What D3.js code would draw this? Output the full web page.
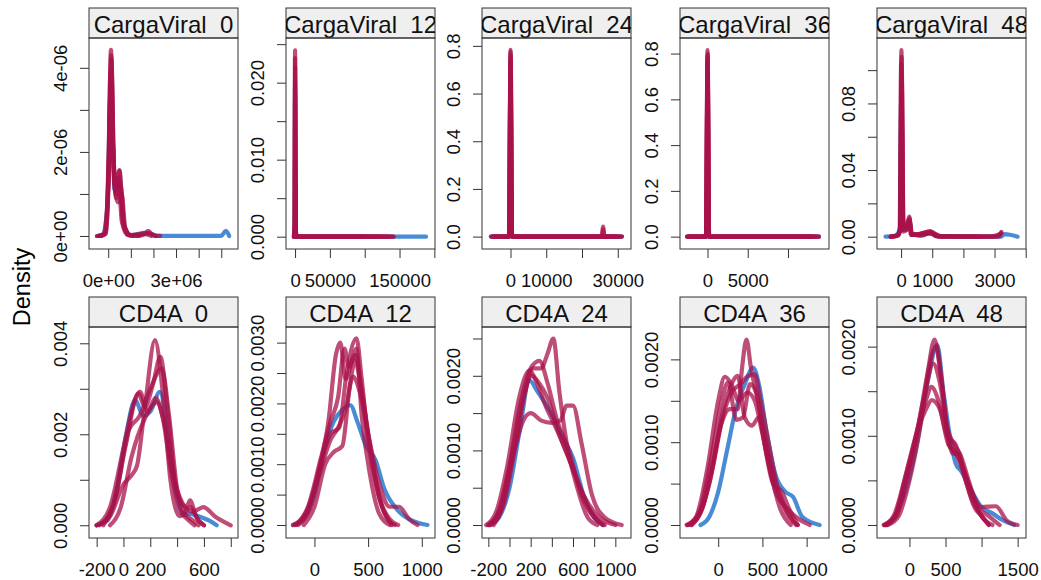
<!DOCTYPE html>
<html>
<head>
<meta charset="utf-8">
<script src="https://cdn.jsdelivr.net/npm/d3@7"></script>
<style>
  body { margin: 0; background: #fff; }
  svg { font-family: "Liberation Sans", Arial, Helvetica, sans-serif; }
</style>
</head>
<body>
<div id="chart"></div>
<script>
// panel titles, row by row
const panelTitles = [
  "CargaViral  0", "CargaViral  12", "CargaViral  24", "CargaViral  36", "CargaViral  48",
  "CD4A  0", "CD4A  12", "CD4A  24", "CD4A  36", "CD4A  48"
];

// free scales: limits of every panel
const xDomains = [
  [-0.85e6, 5.74e6], [-13000, 200900], [-7970, 33700], [-3420, 15100], [-774, 4010],
  [-257, 854], [-265, 1123], [-260, 1148], [-432, 1253], [-450, 1616]
];
const yDomains = [
  [-0.31e-6, 4.71e-6], [-0.0016, 0.0258], [-0.052, 0.833], [-0.054, 0.868], [-0.0074, 0.1193],
  [-0.00028, 0.004358], [-0.000214, 0.003257], [-0.000174, 0.002654], [-0.000157, 0.002391], [-0.000146, 0.00222]
];

const xTicks = [
  [0, 1e6, 2e6, 3e6, 4e6, 5e6], [0, 50000, 100000, 150000, 200000], [0, 10000, 20000, 30000],
  [0, 5000, 10000], [0, 1000, 2000, 3000, 4000],
  [-200, 0, 200, 400, 600, 800], [0, 500, 1000], [-200, 0, 200, 400, 600, 800, 1000],
  [0, 500, 1000], [0, 500, 1000, 1500]
];
const xTickLabels = [
  ["0e+00", "", "", "3e+06", "", ""], ["0", "50000", "", "150000", ""], ["0", "10000", "", "30000"],
  ["0", "5000", ""], ["0", "1000", "", "3000", ""],
  ["-200", "0", "200", "", "600", ""], ["0", "500", "1000"], ["-200", "", "200", "", "600", "", "1000"],
  ["0", "500", "1000"], ["0", "500", "", "1500"]
];

const yTicks = [
  [0, 1e-6, 2e-6, 3e-6, 4e-6], [0, 0.005, 0.01, 0.015, 0.02, 0.025], [0, 0.2, 0.4, 0.6, 0.8],
  [0, 0.2, 0.4, 0.6, 0.8], [0, 0.02, 0.04, 0.06, 0.08, 0.1],
  [0, 0.001, 0.002, 0.003, 0.004], [0, 0.0005, 0.001, 0.0015, 0.002, 0.0025, 0.003],
  [0, 0.0005, 0.001, 0.0015, 0.002, 0.0025], [0, 0.0005, 0.001, 0.0015, 0.002],
  [0, 0.0005, 0.001, 0.0015, 0.002]
];
const yTickLabels = [
  ["0e+00", "", "2e-06", "", "4e-06"], ["0.000", "", "0.010", "", "0.020", ""], ["0.0", "0.2", "0.4", "0.6", "0.8"],
  ["0.0", "0.2", "0.4", "0.6", "0.8"], ["0.00", "", "0.04", "", "0.08", ""],
  ["0.000", "", "0.002", "", "0.004"], ["0.0000", "", "0.0010", "", "0.0020", "", "0.0030"],
  ["0.0000", "", "0.0010", "", "0.0020", ""], ["0.0000", "", "0.0010", "", "0.0020"],
  ["0.0000", "", "0.0010", "", "0.0020"]
];

// density curves: observed data (blue) and the five imputations (red)
const cv0Observed = [[-0.5e6,0],[-0.25e6,0.02e-6],[-0.05e6,0.6e-6],[0.12e6,3.7e-6],[0.28e6,1.1e-6],[0.5e6,1.3e-6],[0.7e6,0.25e-6],[1.0e6,0.02e-6],[1.7e6,0.08e-6],[2.2e6,0],[5.0e6,0],[5.2e6,0.12e-6],[5.35e6,0]];
const cv0Imputed = [
  [[-0.5e6,0],[-0.2e6,0.03e-6],[0,1.2e-6],[0.12e6,4.43e-6],[0.24e6,1.6e-6],[0.36e6,0.9e-6],[0.49e6,1.55e-6],[0.65e6,0.3e-6],[0.9e6,0.02e-6],[1.55e6,0.02e-6],[1.77e6,0.12e-6],[2.0e6,0.01e-6],[2.3e6,0]],
  [[-0.45e6,0],[-0.15e6,0.05e-6],[0.02e6,1.5e-6],[0.14e6,4.2e-6],[0.27e6,1.3e-6],[0.4e6,1.0e-6],[0.55e6,1.2e-6],[0.72e6,0.2e-6],[1.0e6,0.01e-6],[1.6e6,0.05e-6],[1.9e6,0]],
  [[-0.4e6,0],[-0.12e6,0.08e-6],[0.02e6,2.0e-6],[0.1e6,3.9e-6],[0.22e6,2.0e-6],[0.33e6,1.0e-6],[0.45e6,1.4e-6],[0.6e6,0.35e-6],[0.85e6,0.03e-6],[1.4e6,0]],
  [[-0.35e6,0],[-0.1e6,0.05e-6],[0.04e6,1.8e-6],[0.13e6,4.3e-6],[0.26e6,1.5e-6],[0.42e6,0.8e-6],[0.6e6,1.0e-6],[0.75e6,0.2e-6],[1.0e6,0.02e-6],[1.7e6,0.06e-6],[2.1e6,0]],
  [[-0.3e6,0],[-0.1e6,0.1e-6],[0.03e6,1.6e-6],[0.11e6,3.5e-6],[0.23e6,1.9e-6],[0.35e6,1.2e-6],[0.5e6,1.57e-6],[0.66e6,0.4e-6],[0.9e6,0.02e-6],[1.3e6,0]]
];

const cv12Observed = [[-2000,0],[-600,0.001],[0,0.0195],[900,0.001],[2500,0],[188000,0]];
const cv12Imputed = [
  [[-1500,0],[-500,0.001],[0,0.0242],[700,0.001],[2000,0],[141600,0]],
  [[-1500,0],[-400,0.002],[200,0.022],[900,0.0008],[2200,0],[120000,0]],
  [[-1200,0],[-300,0.001],[0,0.0205],[800,0.001],[2000,0],[135000,0]],
  [[-1600,0],[-500,0.0015],[100,0.0185],[900,0.0012],[2400,0],[100000,0]],
  [[-1400,0],[-450,0.001],[0,0.0232],[700,0.001],[2100,0],[141000,0]]
];

const cv24Observed = [[-5500,0],[-500,0],[0,0.095],[500,0],[31200,0]];
const cv24Imputed = [
  [[-5500,0],[-400,0],[0,0.783],[400,0],[25500,0],[25900,0.042],[26300,0],[31200,0]],
  [[-5000,0],[-400,0],[50,0.76],[450,0],[30000,0]],
  [[-4500,0],[-350,0],[0,0.74],[400,0],[25600,0],[25900,0.03],[26200,0],[29000,0]],
  [[-5200,0],[-450,0],[0,0.7],[450,0],[31000,0]],
  [[-4800,0],[-400,0],[30,0.775],[400,0],[30500,0]]
];

const cv36Observed = [[-2550,0],[-200,0],[0,0.28],[200,0],[13860,0]];
const cv36Imputed = [
  [[-2550,0],[-180,0],[0,0.815],[180,0],[13860,0]],
  [[-2400,0],[-180,0],[20,0.8],[200,0],[13500,0]],
  [[-2300,0],[-160,0],[0,0.79],[180,0],[13000,0]],
  [[-2500,0],[-200,0],[0,0.77],[200,0],[13800,0]],
  [[-2200,0],[-170,0],[10,0.75],[190,0],[12800,0]]
];

const cv48Observed = [[-500,0],[-200,0.0005],[-50,0.004],[0,0.08],[60,0.006],[200,0.006],[265,0.009],[330,0.002],[600,0.0005],[950,0.0025],[1150,0.0003],[2000,0],[3200,0],[3320,0.0015],[3740,0]];
const cv48Imputed = [
  [[-340,0],[-120,0.0008],[-40,0.004],[10,0.112],[70,0.004],[200,0.005],[265,0.012],[320,0.002],[500,0.001],[940,0.0034],[1100,0.0003],[1600,0],[3100,0],[3150,0.0002],[3220,0.0028]],
  [[-300,0],[-100,0.001],[-30,0.005],[0,0.104],[60,0.006],[180,0.004],[260,0.01],[330,0.002],[700,0.0008],[940,0.0025],[1200,0.0002],[2500,0]],
  [[-320,0],[-110,0.001],[-30,0.006],[20,0.095],[80,0.005],[250,0.008],[320,0.001],[900,0.002],[1200,0.0002],[3000,0],[3200,0.002]],
  [[-280,0],[-90,0.0012],[-20,0.006],[10,0.085],[70,0.004],[270,0.011],[340,0.001],[950,0.002],[1300,0]],
  [[-340,0],[-100,0.0006],[-25,0.004],[15,0.108],[75,0.003],[230,0.006],[280,0.009],[350,0.001],[960,0.003],[1250,0.0002],[2800,0],[3220,0.002]]
];

const cd0Observed = [[-200,0],[-120,0.0001],[-50,0.0008],[20,0.002],[86,0.00275],[150,0.0024],[200,0.0025],[272,0.00293],[330,0.002],[400,0.0006],[450,0.00022],[484,0.00026],[560,0.0002],[640,0.0001],[695,0]];
const cd0Imputed = [
  [[-200,0],[-100,0.0002],[0,0.0009],[60,0.0011],[100,0.0013],[160,0.0026],[235,0.00407],[290,0.003],[350,0.001],[420,0.0002],[500,0.0004],[560,0.0001],[600,0]],
  [[-180,0],[-80,0.0004],[20,0.0018],[110,0.0029],[160,0.0026],[220,0.0031],[275,0.0037],[330,0.0025],[400,0.0007],[470,0.0004],[496,0.00055],[540,0.0002],[600,0]],
  [[-150,0],[-60,0.0006],[40,0.0021],[120,0.0024],[200,0.003],[285,0.00345],[340,0.0024],[400,0.0008],[450,0.0003],[520,0.0001],[560,0]],
  [[-200,0],[-100,0.0004],[0,0.0017],[70,0.0026],[123,0.00293],[180,0.0025],[240,0.0028],[290,0.0024],[360,0.0011],[430,0.0003],[490,0.0001],[530,0]],
  [[-100,0],[-20,0.0004],[60,0.0015],[160,0.00235],[250,0.0027],[300,0.0023],[380,0.001],[460,0.0004],[520,0.0003],[596,0.0004],[680,0.0002],[800,0]]
];

const cd12Observed = [[-200,0],[-100,0.0001],[0,0.0005],[100,0.0013],[180,0.0017],[260,0.0019],[334,0.00197],[400,0.0017],[480,0.0013],[569,0.00107],[650,0.0006],[772,0.00025],[900,0.00008],[1053,0]];
const cd12Imputed = [
  [[-200,0],[-80,0.0002],[40,0.0009],[130,0.0017],[200,0.0028],[241,0.003],[290,0.0024],[350,0.0027],[391,0.0029],[440,0.0018],[520,0.0008],[600,0.0002],[700,0]],
  [[-150,0],[-40,0.0003],[60,0.001],[150,0.0015],[230,0.0016],[300,0.0025],[391,0.00307],[440,0.0024],[500,0.0014],[580,0.0006],[680,0.0001],[750,0]],
  [[-180,0],[-70,0.0002],[40,0.0008],[150,0.0014],[220,0.0016],[290,0.0019],[359,0.00244],[420,0.0022],[500,0.0015],[600,0.0007],[700,0.0003],[788,0.0003],[880,0.0001],[960,0]],
  [[-100,0],[0,0.0003],[100,0.001],[180,0.0012],[260,0.0013],[330,0.0023],[380,0.0027],[430,0.0023],[520,0.0013],[600,0.0005],[700,0.0001],[780,0]],
  [[-170,0],[-60,0.0003],[60,0.0011],[150,0.0017],[220,0.0021],[280,0.0029],[320,0.0026],[380,0.0028],[450,0.0021],[540,0.001],[630,0.0003],[720,0]]
];

const cd24Observed = [[-190,0],[-100,0.0001],[0,0.0005],[100,0.0013],[188,0.00194],[260,0.0018],[350,0.0016],[430,0.0014],[502,0.00118],[600,0.0009],[700,0.0004],[800,0.0001],[880,0]];
const cd24Imputed = [
  [[-150,0],[-50,0.0003],[60,0.0011],[150,0.0018],[220,0.0021],[300,0.0021],[360,0.0023],[414,0.0025],[470,0.0018],[540,0.0011],[640,0.0005],[740,0.0001],[830,0]],
  [[-200,0],[-100,0.0002],[0,0.0008],[100,0.0016],[200,0.0021],[283,0.0022],[360,0.0019],[450,0.0014],[560,0.001],[680,0.0004],[800,0.0001],[900,0]],
  [[-220,0],[-120,0.0002],[-20,0.0008],[90,0.0017],[188,0.00207],[260,0.0019],[340,0.0016],[440,0.0013],[560,0.0009],[700,0.0004],[850,0.0001],[1000,0]],
  [[-180,0],[-80,0.0002],[30,0.0009],[130,0.0014],[200,0.0015],[300,0.0014],[400,0.00137],[480,0.0014],[540,0.0016],[600,0.0016],[680,0.0011],[780,0.0004],[900,0.0001],[1060,0]],
  [[-200,0],[-90,0.0002],[20,0.0009],[130,0.0017],[210,0.002],[280,0.0019],[360,0.0017],[450,0.0013],[530,0.001],[640,0.0006],[760,0.0002],[880,0]]
];

const cd36Observed = [[-200,0],[-100,0.0001],[0,0.0004],[100,0.0009],[200,0.0014],[300,0.0017],[395,0.0019],[460,0.0017],[550,0.0011],[650,0.0006],[760,0.0004],[846,0.00034],[950,0.0001],[1147,0]];
const cd36Imputed = [
  [[-350,0],[-230,0.0001],[-100,0.0005],[30,0.0012],[130,0.0014],[220,0.0014],[270,0.0019],[320,0.00224],[370,0.0019],[450,0.0015],[560,0.0009],[680,0.0004],[800,0.0001],[900,0]],
  [[-357,0],[-250,0.0001],[-120,0.0007],[0,0.0015],[75,0.00179],[150,0.0017],[230,0.0015],[330,0.0016],[414,0.0015],[500,0.0011],[600,0.0006],[700,0.0002],[820,0]],
  [[-300,0],[-180,0.0002],[-60,0.0007],[50,0.0013],[150,0.0016],[250,0.0017],[340,0.0018],[414,0.00182],[480,0.0015],[570,0.001],[660,0.0005],[760,0.0002],[880,0]],
  [[-330,0],[-200,0.0002],[-80,0.0008],[40,0.0015],[110,0.00172],[207,0.00127],[280,0.0013],[360,0.0017],[430,0.0016],[520,0.001],[620,0.0005],[720,0.0004],[800,0.0002],[900,0]],
  [[-300,0],[-180,0.0002],[-50,0.0008],[60,0.0014],[150,0.0017],[220,0.0018],[300,0.0013],[380,0.0012],[460,0.0013],[540,0.0009],[650,0.0004],[780,0.0002],[1034,0]]
];

const cd48Observed = [[-311,0],[-200,0.0001],[-50,0.0004],[100,0.0009],[250,0.0016],[385,0.00202],[470,0.0015],[560,0.001],[641,0.00069],[720,0.0006],[850,0.0004],[1000,0.0002],[1151,0.00013],[1300,0.00005],[1453,0]];
const cd48Imputed = [
  [[-330,0],[-200,0.0001],[-50,0.0005],[100,0.001],[250,0.0017],[348,0.00208],[430,0.0017],[520,0.0011],[600,0.0008],[680,0.0008],[780,0.0005],[900,0.0002],[1000,0.0001],[1100,0]],
  [[-357,0],[-220,0.0001],[-70,0.0005],[90,0.001],[220,0.0015],[330,0.00181],[420,0.0016],[520,0.0011],[620,0.0009],[700,0.0008],[820,0.0005],[950,0.0002],[1100,0.0001],[1250,0]],
  [[-350,0],[-200,0.0001],[-40,0.0006],[120,0.0011],[230,0.0014],[302,0.00155],[400,0.0014],[520,0.001],[641,0.0009],[720,0.0007],[850,0.0004],[1000,0.0002],[1198,0.00021],[1350,0.00005],[1500,0]],
  [[-330,0],[-180,0.0001],[-20,0.0006],[130,0.0011],[230,0.0013],[310,0.0014],[420,0.0013],[540,0.0009],[650,0.0008],[760,0.0006],[880,0.0003],[1000,0.0001],[1150,0]],
  [[-300,0],[-150,0.0001],[0,0.0005],[150,0.0011],[280,0.0018],[370,0.002],[450,0.0016],[550,0.0009],[650,0.0008],[740,0.0006],[860,0.0003],[1000,0.0001],[1100,0]]
];

const observed = [cv0Observed, cv12Observed, cv24Observed, cv36Observed, cv48Observed,
  cd0Observed, cd12Observed, cd24Observed, cd36Observed, cd48Observed];
const imputed = [cv0Imputed, cv12Imputed, cv24Imputed, cv36Imputed, cv48Imputed,
  cd0Imputed, cd12Imputed, cd24Imputed, cd36Imputed, cd48Imputed];

// layout
const width = 1041, height = 580;
const panelLeft = [89, 286, 482, 680, 877];
const rowTop = [8, 297];
const panelW = 149, stripH = 30, plotH = 211;
const obsColor = "#1C6FCB", impColor = "#A8124A";

const svg = d3.select("#chart").append("svg")
  .attr("width", width)
  .attr("height", height);

svg.append("text")
  .attr("transform", "translate(30,287) rotate(-90)")
  .attr("text-anchor", "middle")
  .attr("font-size", 23.5)
  .attr("fill", "#000")
  .text("Density");

panelTitles.forEach(function (title, i) {
  const col = i % 5, row = Math.floor(i / 5);
  const left = panelLeft[col], top = rowTop[row];
  const g = svg.append("g").attr("transform", "translate(" + left + "," + top + ")");

  const x = d3.scaleLinear().domain(xDomains[i]).range([0, panelW]);
  const y = d3.scaleLinear().domain(yDomains[i]).range([stripH + plotH, stripH]);

  // strip
  g.append("clipPath").attr("id", "strip" + i)
    .append("rect").attr("width", panelW).attr("height", stripH);
  g.append("rect")
    .attr("width", panelW).attr("height", stripH)
    .attr("fill", "#efefef").attr("stroke", "#333").attr("stroke-width", 1);
  g.append("text")
    .attr("clip-path", "url(#strip" + i + ")")
    .attr("x", panelW / 2).attr("y", 25)
    .attr("text-anchor", "middle")
    .attr("font-size", 24)
    .style("white-space", "pre")
    .attr("fill", "#111")
    .text(title);

  // curves
  g.append("clipPath").attr("id", "plot" + i)
    .append("rect").attr("y", stripH).attr("width", panelW).attr("height", plotH);
  const line = d3.line()
    .x(function (d) { return x(d[0]); })
    .y(function (d) { return y(d[1]); })
    .curve(d3.curveMonotoneX);
  const curves = g.append("g").attr("clip-path", "url(#plot" + i + ")");
  curves.append("path")
    .attr("d", line(observed[i]))
    .attr("fill", "none").attr("stroke", obsColor)
    .attr("stroke-opacity", 0.8).attr("stroke-width", 4.2)
    .attr("stroke-linejoin", "round").attr("stroke-linecap", "round");
  curves.selectAll("path.imp")
    .data(imputed[i])
    .enter()
    .append("path")
    .attr("class", "imp")
    .attr("d", line)
    .attr("fill", "none").attr("stroke", impColor)
    .attr("stroke-opacity", 0.75).attr("stroke-width", 4.2)
    .attr("stroke-linejoin", "round").attr("stroke-linecap", "round");

  // panel box
  g.append("rect")
    .attr("y", stripH).attr("width", panelW).attr("height", plotH)
    .attr("fill", "none").attr("stroke", "#333").attr("stroke-width", 1);

  // axes
  const xLab = xTickLabels[i], yLab = yTickLabels[i];
  const xAxis = g.append("g")
    .attr("transform", "translate(0," + (stripH + plotH) + ")")
    .call(d3.axisBottom(x).tickValues(xTicks[i]).tickSize(9)
      .tickFormat(function (d, k) { return xLab[k]; }));
  xAxis.select(".domain").remove();
  xAxis.selectAll("line").attr("stroke", "#333");
  xAxis.selectAll("text")
    .attr("y", 37.5).attr("dy", null)
    .attr("font-size", 18.5)
    .attr("font-family", "Liberation Sans, Arial, sans-serif")
    .attr("fill", "#111");

  const yAxis = g.append("g")
    .call(d3.axisLeft(y).tickValues(yTicks[i]).tickSize(9)
      .tickFormat(function (d, k) { return yLab[k]; }));
  yAxis.select(".domain").remove();
  yAxis.selectAll("line").attr("stroke", "#333");
  yAxis.selectAll("text")
    .attr("x", null).attr("dy", null)
    .attr("transform", "translate(-22,0) rotate(-90)")
    .attr("text-anchor", "middle")
    .attr("font-size", 18.5)
    .attr("font-family", "Liberation Sans, Arial, sans-serif")
    .attr("fill", "#111");
});
</script>
</body>
</html>
